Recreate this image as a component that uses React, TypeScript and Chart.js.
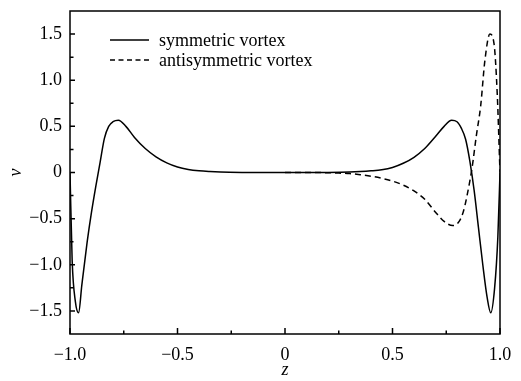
import React, { useEffect, useRef } from "react";
import { Chart, registerables } from "chart.js";

Chart.register(...registerables);

// symmetric vortex (solid)
const symZ = [
  -1, -0.99, -0.975, -0.96, -0.945, -0.92, -0.9, -0.88, -0.86, -0.84, -0.82, -0.8, -0.775,
  -0.74, -0.7, -0.65, -0.6, -0.55, -0.5, -0.45, -0.4, -0.35, -0.3, -0.2, -0.1, 0, 0.1, 0.2,
  0.3, 0.35, 0.4, 0.45, 0.5, 0.55, 0.6, 0.65, 0.7, 0.74, 0.775, 0.8, 0.82, 0.84, 0.86,
  0.88, 0.9, 0.92, 0.94, 0.957, 0.975, 0.99, 1,
];
const symV = [
  0, -0.95, -1.4, -1.52, -1.22, -0.75, -0.43, -0.15, 0.11, 0.37, 0.5, 0.55, 0.565,
  0.5, 0.38, 0.26, 0.17, 0.105, 0.06, 0.033, 0.018, 0.01, 0.005, 0.001, 0, 0, 0, 0.001,
  0.005, 0.01, 0.018, 0.03, 0.055, 0.1, 0.165, 0.26, 0.39, 0.5, 0.565, 0.55, 0.48, 0.36,
  0.12, -0.2, -0.6, -1.0, -1.35, -1.52, -1.25, -0.7, 0,
];

// antisymmetric vortex (dashed)
const antiZ = [
  0, 0.1, 0.2, 0.25, 0.3, 0.35, 0.4, 0.45, 0.5, 0.55, 0.6, 0.65, 0.7, 0.74, 0.78, 0.81,
  0.83, 0.845, 0.87, 0.89, 0.91, 0.93, 0.953, 0.972, 0.987, 1,
];
const antiV = [
  0, 0, -0.002, -0.006, -0.012, -0.024, -0.04, -0.063, -0.093, -0.137, -0.2, -0.29, -0.43,
  -0.53, -0.575, -0.53, -0.42, -0.27, 0.05, 0.4, 0.72, 1.22, 1.5, 1.4, 0.86, 0,
];

const seriesLabels = ["symmetric vortex", "antisymmetric vortex"];

const xTicks = [-1, -0.5, 0, 0.5, 1];
const xTickLabels = ["−1.0", "−0.5", "0", "0.5", "1.0"];
const xMinor = [-0.75, -0.25, 0.25, 0.75];
const yTicks = [-1.5, -1, -0.5, 0, 0.5, 1, 1.5];
const yTickLabels = ["−1.5", "−1.0", "−0.5", "0", "0.5", "1.0", "1.5"];
const yMinor = [-1.25, -0.75, -0.25, 0.25, 0.75, 1.25];

const FONT = "'Liberation Serif', 'Times New Roman', serif";

const framePlugin = {
  id: "frame",
  afterDatasetsDraw(chart: any) {
    const { ctx, chartArea, scales } = chart;
    const { left, right, top, bottom } = chartArea;
    const x = scales.x;
    const y = scales.y;
    ctx.save();
    ctx.strokeStyle = "#000";
    ctx.lineWidth = 1.5;
    ctx.setLineDash([]);
    ctx.strokeRect(left, top, right - left, bottom - top);
    ctx.beginPath();
    xTicks.forEach((v) => {
      const px = x.getPixelForValue(v);
      ctx.moveTo(px, bottom);
      ctx.lineTo(px, bottom - 6);
    });
    xMinor.forEach((v) => {
      const px = x.getPixelForValue(v);
      ctx.moveTo(px, bottom);
      ctx.lineTo(px, bottom - 3.5);
    });
    yTicks.forEach((v) => {
      const py = y.getPixelForValue(v);
      ctx.moveTo(left, py);
      ctx.lineTo(left + 5, py);
    });
    yMinor.forEach((v) => {
      const py = y.getPixelForValue(v);
      ctx.moveTo(left, py);
      ctx.lineTo(left + 3.5, py);
    });
    ctx.stroke();

    // legend
    const lx0 = left + 40;
    const lx1 = left + 79;
    const tx = left + 89;
    const rows = [top + 29, top + 49];
    ctx.lineWidth = 1.5;
    ctx.font = `18px ${FONT}`;
    ctx.fillStyle = "#000";
    ctx.textBaseline = "middle";
    ctx.textAlign = "left";
    chart.data.datasets.forEach((ds: any, i: number) => {
      ctx.setLineDash(i === 1 ? [5, 3.5] : []);
      ctx.beginPath();
      ctx.moveTo(lx0, rows[i]);
      ctx.lineTo(lx1, rows[i]);
      ctx.stroke();
      ctx.setLineDash([]);
      ctx.fillText(ds.label, tx, rows[i] + 1);
    });
    ctx.restore();
  },
};

export default function App() {
  const ref = useRef<HTMLCanvasElement | null>(null);

  useEffect(() => {
    if (!ref.current) return;
    const chart = new Chart(ref.current, {
      type: "line",
      data: {
        datasets: [
          {
            label: seriesLabels[0],
            data: symZ.map((z, i) => ({ x: z, y: symV[i] })),
            borderColor: "#000",
            borderWidth: 1.5,
            pointRadius: 0,
            cubicInterpolationMode: "monotone",
            fill: false,
          },
          {
            label: seriesLabels[1],
            data: antiZ.map((z, i) => ({ x: z, y: antiV[i] })),
            borderColor: "#000",
            borderWidth: 1.5,
            borderDash: [6, 4],
            pointRadius: 0,
            cubicInterpolationMode: "monotone",
            fill: false,
          },
        ],
      },
      options: {
        animation: false,
        responsive: true,
        maintainAspectRatio: false,
        layout: { padding: { top: 11, right: 21, left: 0, bottom: 0 } },
        plugins: {
          legend: { display: false },
          tooltip: { enabled: false },
        },
        scales: {
          x: {
            type: "linear",
            min: -1,
            max: 1,
            grid: { display: false, drawTicks: false },
            border: { display: false },
            afterBuildTicks: (s: any) => {
              s.ticks = xTicks.map((v) => ({ value: v }));
            },
            afterFit: (s: any) => {
              s.height = 47;
              s.paddingLeft = 0;
              s.paddingRight = 0;
            },
            ticks: {
              color: "#000",
              font: { family: FONT, size: 18 },
              padding: 10,
              maxRotation: 0,
              autoSkip: false,
              callback: (v: any) => {
                const i = xTicks.indexOf(Number(v));
                return i >= 0 ? xTickLabels[i] : "";
              },
            },
            title: {
              display: true,
              text: "z",
              color: "#000",
              font: { family: FONT, size: 18, style: "italic" },
              padding: { top: 0, bottom: 0 },
            },
          },
          y: {
            type: "linear",
            min: -1.75,
            max: 1.75,
            grid: { display: false, drawTicks: false },
            border: { display: false },
            afterBuildTicks: (s: any) => {
              s.ticks = yTicks.map((v) => ({ value: v }));
            },
            afterFit: (s: any) => {
              s.width = 70;
              s.paddingTop = 0;
              s.paddingBottom = 0;
            },
            ticks: {
              color: "#000",
              font: { family: FONT, size: 18 },
              padding: 8,
              autoSkip: false,
              callback: (v: any) => {
                const i = yTicks.indexOf(Number(v));
                return i >= 0 ? yTickLabels[i] : "";
              },
            },
            title: {
              display: true,
              text: "v",
              color: "#000",
              font: { family: FONT, size: 18, style: "italic" },
              padding: { top: 5, bottom: 0 },
            },
          },
        },
      } as any,
      plugins: [framePlugin],
    });
    return () => chart.destroy();
  }, []);

  return (
    <div
      style={{
        position: "fixed",
        left: 0,
        top: 0,
        width: 521,
        height: 381,
        background: "#fff",
      }}
    >
      <canvas ref={ref} />
    </div>
  );
}
